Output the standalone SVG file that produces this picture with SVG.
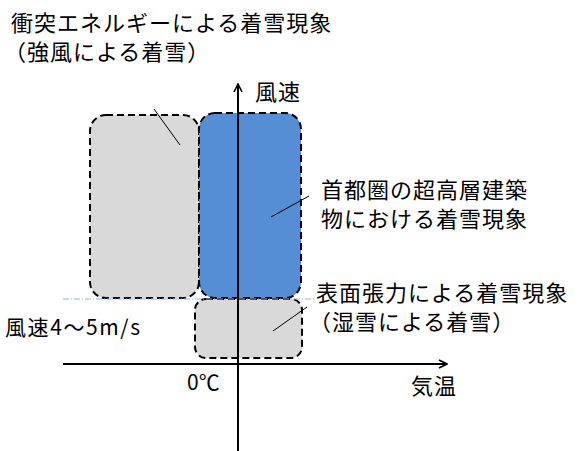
<svg xmlns="http://www.w3.org/2000/svg" width="579" height="451" viewBox="0 0 579 451">
<style>
text{font-family:"Noto Sans CJK JP","Noto Sans",sans-serif;fill:#000;}
.t{font-size:22px;letter-spacing:1px;}
.s{font-size:21px;}
.box{stroke:#000;stroke-width:2;stroke-dasharray:7,4;}
.gray{fill:#d9d9d9;}
.blue{fill:#558ed5;}
.ax{stroke:#000;stroke-width:2;fill:none;}
.ld{stroke:#000;stroke-width:1;fill:none;}
</style>
<defs>
<marker id="arr" viewBox="0 0 10 10" refX="9" refY="5" markerWidth="10" markerHeight="10" markerUnits="userSpaceOnUse" orient="auto">
<path d="M1,1 L9,5 L1,9" fill="none" stroke="#000" stroke-width="1.6"/>
</marker>
</defs>
<g id="node-left"><rect class="box gray" x="90" y="115" width="109" height="183" rx="16"/></g>
<g id="node-blue"><rect class="box blue" x="199" y="113" width="102" height="185" rx="16"/></g>
<g id="node-bottom"><rect class="box gray" x="195" y="299" width="107" height="59" rx="11"/></g>
<g id="connectors">
<line x1="63" y1="299" x2="316" y2="299" stroke="#8eb4e3" stroke-width="1" stroke-dasharray="6,2,1,2"/>
<line class="ax" x1="238" y1="451" x2="238" y2="84" marker-end="url(#arr)"/>
<line class="ax" x1="63" y1="364" x2="447" y2="364" marker-end="url(#arr)"/>
<line class="ld" x1="154" y1="109" x2="180" y2="145"/>
<line class="ld" x1="309" y1="196" x2="271" y2="217"/>
<line class="ld" x1="307" y1="307" x2="273" y2="331"/>
</g>
<g id="labels">
<text class="t" x="11" y="31">衝突エネルギーによる着雪現象</text>
<text class="t" x="4" y="60">（強風による着雪）</text>
<text class="t" x="255" y="100">風速</text>
<text class="t" x="321" y="198">首都圏の超高層建築</text>
<text class="t" x="321" y="227">物における着雪現象</text>
<text class="t" x="316" y="301">表面張力による着雪現象</text>
<text class="t" x="309" y="330">（湿雪による着雪）</text>
<text class="s" x="5" y="335" textLength="135" lengthAdjust="spacing">風速4～5m/s</text>
<text class="s" x="187" y="390">0℃</text>
<text class="t" x="411" y="394">気温</text>
</g>
</svg>
